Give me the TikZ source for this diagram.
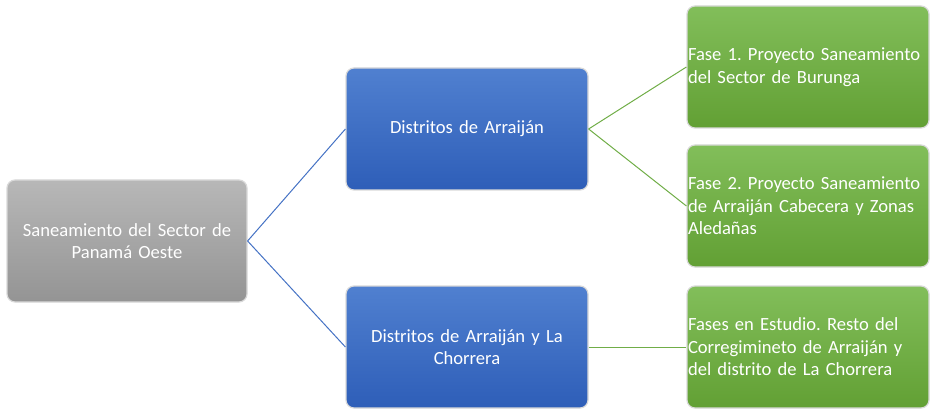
\documentclass[tikz,border=0pt]{standalone}
\usepackage{fontspec}
\setmainfont{Carlito}
\begin{document}
\frenchspacing
\begin{tikzpicture}[x=1pt,y=-1pt,
  boxbase/.style={rounded corners=8pt, minimum height=122pt, inner sep=2pt, text=white,
     font=\fontsize{18.6}{22.5}\selectfont, draw=white!85!black, line width=1.2pt},
  graybox/.style={boxbase, minimum width=240pt, text width=236pt, align=center,
     top color=black!28, bottom color=black!42},
  bluebox/.style={boxbase, minimum width=242pt, text width=238pt, align=center,
     top color={rgb,255:red,80;green,128;blue,208}, bottom color={rgb,255:red,46;green,94;blue,184}},
  greenbox/.style={boxbase, minimum width=242pt, text width=240pt, align=left, inner sep=1pt,
     top color={rgb,255:red,130;green,190;blue,90}, bottom color={rgb,255:red,98;green,160;blue,52}},
  blueline/.style={draw={rgb,255:red,68;green,114;blue,196}, line width=1pt},
  greenline/.style={draw={rgb,255:red,112;green,173;blue,71}, line width=1pt}
]
\useasboundingbox (0,0) rectangle (938,417);
\node[graybox] (root) at (127,241) {Saneamiento del Sector de\\Panamá Oeste};
\node[bluebox] (b1) at (467,129) {Distritos de Arraiján};
\node[bluebox] (b2) at (467,347) {Distritos de Arraiján y La\\Chorrera};
\node[greenbox] (g1) at (808,67) {Fase 1. Proyecto Saneamiento\\del Sector de Burunga};
\node[greenbox] (g2) at (808,206) {Fase 2. Proyecto Saneamiento\\de Arraiján Cabecera y Zonas\\Aledañas};
\node[greenbox] (g3) at (808,347) {Fases en Estudio. Resto del\\Corregimineto de Arraiján y\\del distrito de La Chorrera};
\draw[blueline] (root.east) -- (b1.west);
\draw[blueline] (root.east) -- (b2.west);
\draw[greenline] (b1.east) -- (g1.west);
\draw[greenline] (b1.east) -- (g2.west);
\draw[greenline] (b2.east) -- (g3.west);
\end{tikzpicture}
\end{document}
